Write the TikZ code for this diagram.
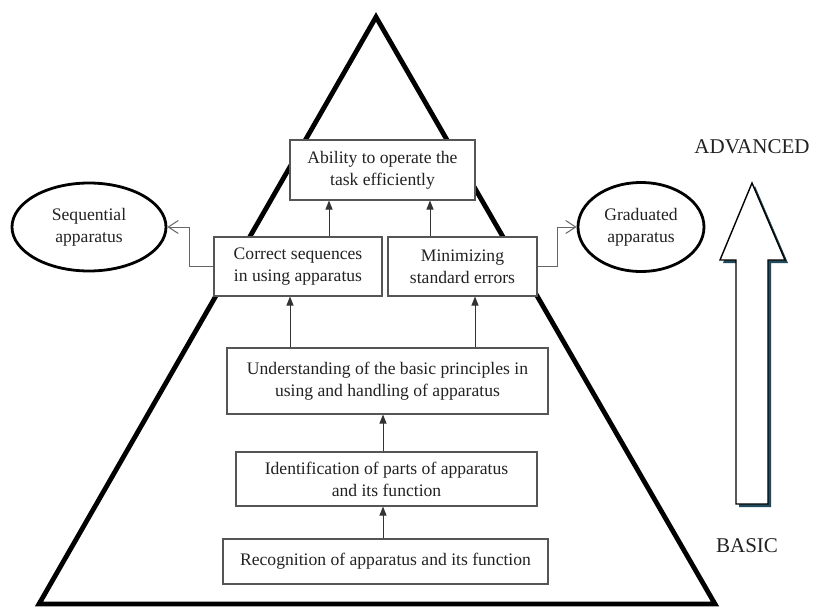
\documentclass[tikz,border=0pt]{standalone}
\usepackage{fontspec}
\setmainfont{Liberation Serif}
\newfontfamily\tnr{Liberation Serif}
\usetikzlibrary{arrows.meta,shapes.geometric}
\definecolor{shadowc}{HTML}{1F4B5C}
\definecolor{boxline}{HTML}{555555}
\definecolor{txt}{HTML}{222222}
\begin{document}
\begin{tikzpicture}[x=1pt,y=-1pt,
  box/.style={draw=boxline, line width=1.1pt, fill=white, align=center, inner sep=0pt,
    font=\tnr\fontsize{17.6}{22}\selectfont, text=txt},
  oval/.style={ellipse, draw=black, line width=2.8pt, fill=white, align=center, inner sep=0pt,
    font=\tnr\fontsize{17.6}{22}\selectfont, text=txt},
  lab/.style={font=\tnr\fontsize{21}{24}\selectfont, text=txt, inner sep=0pt},
  upar/.style={draw=black!80, line width=1pt, -{Triangle[length=9pt,width=7pt]}},
  barb/.style={draw=black!60, line width=1pt, -{Straight Barb[length=10pt,width=13pt]}}
]
\useasboundingbox (0,0) rectangle (814,608);
\fill[white] (0,0) rectangle (814,608);
% pyramid
\draw[line width=4.8pt, line join=miter] (376,17) -- (715,604) -- (39,604) -- cycle;
% boxes
\node[box, minimum width=185pt, minimum height=60pt] (top) at (382.5,170) {Ability to operate the\\task efficiently};
\node[box, minimum width=168pt, minimum height=59pt] (corr) at (298,266.5) {Correct sequences\\in using apparatus};
\node[box, minimum width=149pt, minimum height=59pt] (mini) at (462.5,266.5) {Minimizing\\standard errors};
\node[box, minimum width=321pt, minimum height=66pt] (und) at (387.5,381) {Understanding of the basic principles in\\using and handling of apparatus};
\node[box, minimum width=301pt, minimum height=54pt] (ide) at (386.5,479) {Identification of parts of apparatus\\and its function};
\node[box, minimum width=325pt, minimum height=45pt] (rec) at (385.5,561.5) {Recognition of apparatus and its function};
% ellipses
\node[oval, minimum width=154pt, minimum height=88pt] (seq) at (89,227) {Sequential\\apparatus};
\node[oval, minimum width=126pt, minimum height=89pt] (grad) at (641,227) {Graduated\\apparatus};
% connector x positions
\coordinate (xa) at (329,0);
\coordinate (xb) at (430,0);
\coordinate (xc) at (290,0);
\coordinate (xd) at (475,0);
\coordinate (xe) at (383,0);
\coordinate (kl) at (189,0);
\coordinate (kr) at (557,0);
\draw[upar] (corr.north -| xa) -- (top.south -| xa);
\draw[upar] (mini.north -| xb) -- (top.south -| xb);
\draw[upar] (und.north -| xc) -- (corr.south -| xc);
\draw[upar] (und.north -| xd) -- (mini.south -| xd);
\draw[upar] (ide.north -| xe) -- (und.south -| xe);
\draw[upar] (rec.north -| xe) -- (ide.south -| xe);
\draw[barb] (corr.west) -- (corr.west -| kl) |- (seq.east);
\draw[barb] (mini.east) -- (mini.east -| kr) |- (grad.west);
% big arrow
\fill[shadowc, shift={(3,3)}] (752,183) -- (785,260) -- (768,260) -- (768,504) -- (736,504) -- (736,260) -- (720,260) -- cycle;
\draw[fill=white, line width=1.4pt, line join=miter] (752,183) -- (785,260) -- (768,260) -- (768,504) -- (736,504) -- (736,260) -- (720,260) -- cycle;
\node[lab] (adv) at (752,147) {ADVANCED};
\node[lab] (bas) at (747,546) {BASIC};
\end{tikzpicture}
\end{document}
